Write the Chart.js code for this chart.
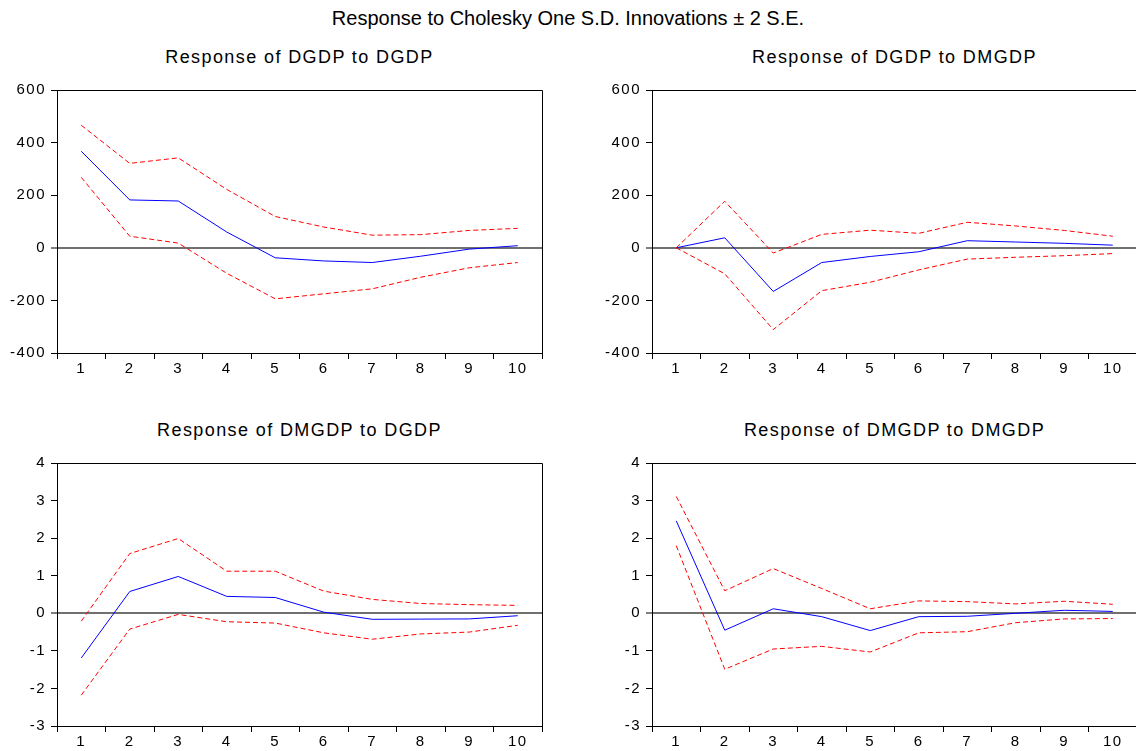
<!DOCTYPE html>
<html>
<head>
<meta charset="utf-8">
<script src="https://cdn.jsdelivr.net/npm/chart.js@4.4.1/dist/chart.umd.min.js"></script>
<style>
    html, body {
        margin: 0;
        padding: 0;
        background: #fff;
        width: 1136px;
        height: 751px;
        overflow: hidden;
        position: relative;
        font-family: "Liberation Sans", Arial, sans-serif;
        color: #000;
    }
    canvas { position: absolute; }
    .title {
        position: absolute;
        left: 0;
        top: 8px;
        width: 1136px;
        text-align: center;
        font-size: 20px;
        line-height: 20px;
        white-space: nowrap;
    }
    .sub {
        position: absolute;
        text-align: center;
        font-size: 18px;
        line-height: 18px;
        letter-spacing: 1.4px;
        white-space: nowrap;
    }
</style>
</head>
<body>
<div class="title">Response to Cholesky One S.D. Innovations ± 2 S.E.</div>

<div class="sub" style="left:57px;top:48px;width:485px">Response of DGDP to DGDP</div>
<div class="sub" style="left:652px;top:48px;width:485px">Response of DGDP to DMGDP</div>
<div class="sub" style="left:57px;top:421px;width:485px">Response of DMGDP to DGDP</div>
<div class="sub" style="left:652px;top:421px;width:485px">Response of DMGDP to DMGDP</div>

<canvas id="c11" width="600" height="311" style="left:0;top:70px"></canvas>
<canvas id="c12" width="570" height="311" style="left:570px;top:70px"></canvas>
<canvas id="c21" width="600" height="311" style="left:0;top:443px"></canvas>
<canvas id="c22" width="570" height="311" style="left:570px;top:443px"></canvas>

<script>
// periods
const periods = ["1", "2", "3", "4", "5", "6", "7", "8", "9", "10"];

// Response of DGDP to DGDP
const resp11 = [367, 182, 178, 60, -38, -50, -56, -32, -5, 8];
const up11 = [466, 321, 342, 222, 119, 79, 48, 50, 66, 74];
const lo11 = [268, 44, 18, -97, -194, -175, -156, -112, -76, -56];

// Response of DGDP to DMGDP
const resp12 = [0, 38, -166, -56, -33, -15, 27, 22, 17, 10];
const up12 = [0, 177, -20, 51, 67, 55, 97, 83, 66, 44];
const lo12 = [0, -99, -311, -163, -131, -84, -43, -36, -30, -22];

// Response of DMGDP to DGDP
const resp21 = [-1.19, 0.58, 0.98, 0.45, 0.42, 0.03, -0.16, -0.155, -0.15, -0.065];
const up21 = [-0.21, 1.59, 1.99, 1.12, 1.12, 0.59, 0.37, 0.26, 0.23, 0.21];
const lo21 = [-2.18, -0.42, -0.03, -0.225, -0.26, -0.52, -0.69, -0.55, -0.5, -0.32];

// Response of DMGDP to DMGDP
const resp22 = [2.46, -0.45, 0.12, -0.09, -0.46, -0.09, -0.08, 0.0, 0.08, 0.05];
const up22 = [3.11, 0.6, 1.19, 0.66, 0.12, 0.33, 0.31, 0.25, 0.32, 0.24];
const lo22 = [1.8, -1.49, -0.95, -0.88, -1.03, -0.52, -0.49, -0.25, -0.15, -0.14];

// y ranges
const gdpAxis = { min: -400, max: 600, step: 200 };
const mgdpAxis = { min: -3, max: 4, step: 1 };

const FONT = "'Liberation Sans', Arial, sans-serif";

function align(chart, px) {
    const dpr = chart.currentDevicePixelRatio;
    return Math.round((px - 0.5) * dpr) / dpr + 0.5;
}

// top and right sides of the box round the plot
const framePlugin = {
    id: "frame",
    afterDraw(chart) {
        const { ctx, chartArea: a } = chart;
        const top = align(chart, a.top);
        const right = align(chart, a.right);
        ctx.save();
        ctx.strokeStyle = "#000";
        ctx.lineWidth = 1;
        ctx.beginPath();
        ctx.moveTo(a.left, top);
        ctx.lineTo(right, top);
        ctx.lineTo(right, a.bottom);
        ctx.stroke();
        ctx.restore();
    },
};

// eviews draws its digits a bit spread out
const spacingPlugin = {
    id: "spacing",
    beforeUpdate(chart) { chart.ctx.letterSpacing = "1.5px"; },
    beforeDraw(chart) { chart.ctx.letterSpacing = "1.5px"; },
};

function makePanel(canvasId, resp, up, lo, range, yWidth, rightPad) {
    const dashed = (data) => ({
        data: data,
        borderColor: "#FF0000",
        borderWidth: 1,
        borderDash: [5, 3],
        pointRadius: 0,
        tension: 0,
        fill: false,
    });

    new Chart(document.getElementById(canvasId), {
        type: "line",
        data: {
            labels: periods,
            datasets: [
                dashed(up),
                dashed(lo),
                {
                    data: resp,
                    borderColor: "#0000FF",
                    borderWidth: 1,
                    pointRadius: 0,
                    tension: 0,
                    fill: false,
                },
            ],
        },
        options: {
            responsive: false,
            animation: false,
            layout: {
                padding: { left: 0, top: 20, right: rightPad, bottom: 0 },
            },
            plugins: {
                legend: { display: false },
                tooltip: { enabled: false },
            },
            scales: {
                x: {
                    type: "category",
                    offset: true,
                    afterFit: (scale) => { scale.height = 28; },
                    border: { display: true, color: "#000", width: 1 },
                    grid: {
                        offset: true,
                        drawOnChartArea: false,
                        color: "#000",
                        tickLength: 6,
                    },
                    ticks: {
                        color: "#000",
                        padding: 1,
                        maxRotation: 0,
                        autoSkip: false,
                        font: { family: FONT, size: 15 },
                    },
                },
                y: {
                    min: range.min,
                    max: range.max,
                    afterFit: (scale) => { scale.width = yWidth; },
                    border: { display: true, color: "#000", width: 1 },
                    grid: {
                        color: (c) => (c.tick && c.tick.value === 0 ? "#707070" : "rgba(0,0,0,0)"),
                        lineWidth: (c) => (c.tick && c.tick.value === 0 ? 2 : 1),
                        tickColor: "#000",
                        tickWidth: 1,
                        tickLength: 6,
                    },
                    ticks: {
                        stepSize: range.step,
                        color: "#000",
                        padding: 5,
                        font: { family: FONT, size: 15 },
                    },
                },
            },
        },
        plugins: [spacingPlugin, framePlugin],
    });
}

makePanel("c11", resp11, up11, lo11, gdpAxis, 57, 58);
makePanel("c12", resp12, up12, lo12, gdpAxis, 82, 3);
makePanel("c21", resp21, up21, lo21, mgdpAxis, 57, 58);
makePanel("c22", resp22, up22, lo22, mgdpAxis, 82, 3);
</script>
</body>
</html>
